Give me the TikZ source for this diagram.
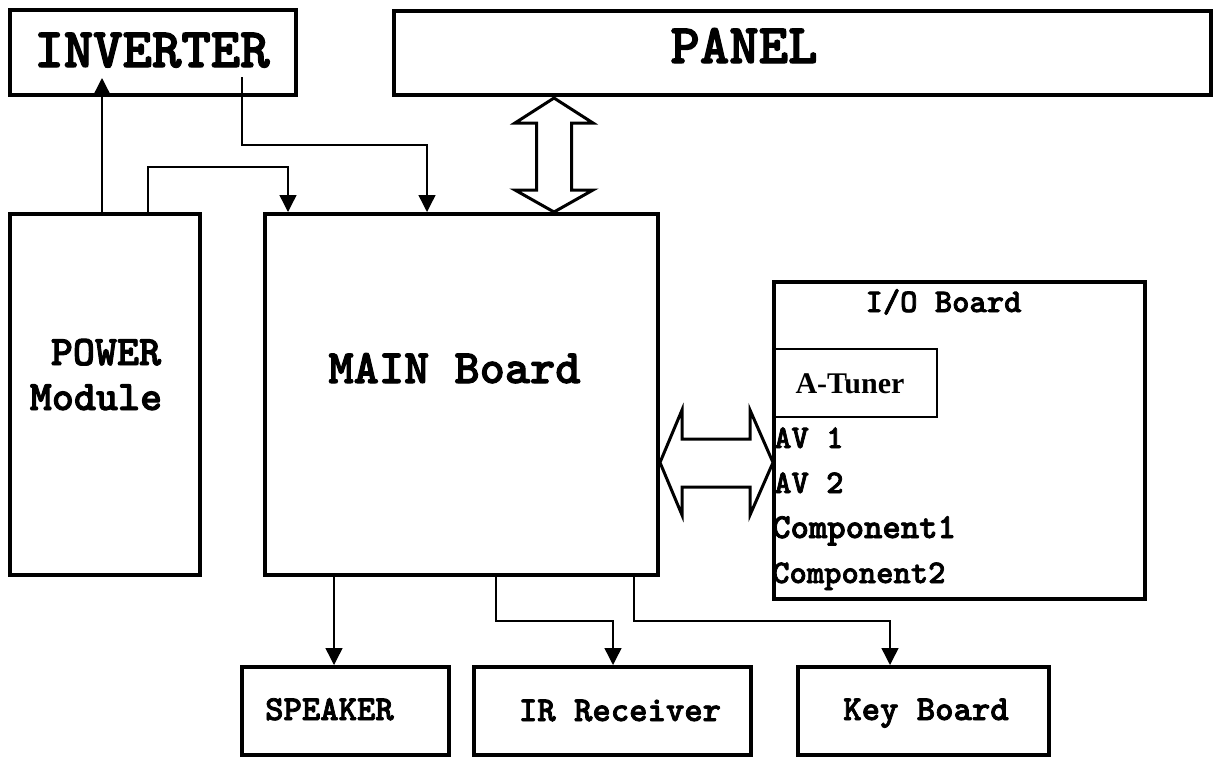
\documentclass[tikz,border=0pt]{standalone}
\usepackage{fontspec}
\newfontfamily\cour{lmmonolt10-bold.otf}[FakeBold=2.2]
\newfontfamily\tms{Liberation Serif}
\usetikzlibrary{arrows.meta}
\newcommand\fsz[1]{\fontsize{#1}{#1}\selectfont}
\begin{document}
\begin{tikzpicture}[x=1pt,y=-1pt,
  box/.style={draw, line width=4pt, inner sep=0pt, fill=white},
  thinbox/.style={draw, line width=1.2pt, inner sep=0pt},
  lbl/.style={inner sep=0pt, anchor=base},
  lblw/.style={inner sep=0pt, anchor=base west},
  conn/.style={line width=1.4pt, line join=miter, -{Triangle[length=17pt,width=17pt]}},
  blockarrow/.style={draw, line width=3pt, fill=white, line join=miter}]
\fill[white] (0,0) rectangle (1220,758);
\useasboundingbox (0,0) rectangle (1220,758);

% boxes
\node[box, minimum width=286pt, minimum height=85pt] (inverter) at (153,52.5) {};
\node[box, minimum width=817pt, minimum height=84pt] (panel) at (802.5,53) {};
\node[box, minimum width=190pt, minimum height=361pt] (power) at (105,394.5) {};
\node[box, minimum width=393pt, minimum height=361pt] (main) at (461.5,394.5) {};
\node[box, minimum width=371pt, minimum height=317pt] (io) at (959.5,440.5) {};
\node[thinbox, minimum width=162pt, minimum height=68pt] (tuner) at (856,383) {};
\node[box, minimum width=207pt, minimum height=88pt] (speaker) at (345.5,711) {};
\node[box, minimum width=277pt, minimum height=88pt] (ir) at (612.5,711) {};
\node[box, minimum width=251pt, minimum height=88pt] (key) at (923.5,711) {};

% labels
\node[lbl, font=\cour\fsz{56}] (inverter-t) at (152,67) {INVERTER};
\node[lbl, font=\cour\fsz{56}] (panel-t) at (744,63) {PANEL};
\node[lbl, font=\cour\fsz{42}] (power-t1) at (106,365) {POWER};
\node[lbl, font=\cour\fsz{42}] (power-t2) at (96,410) {Module};
\node[lbl, font=\cour\fsz{48}] (main-t) at (454.5,383) {MAIN Board};
\node[lbl, font=\cour\fsz{33}] (io-t) at (943.5,312) {I/O Board};
\node[lbl, font=\tms\bfseries\fsz{30}] (tuner-t) at (850,393) {A-Tuner};
\node[lblw, font=\cour\fsz{33}] (av1) at (774,448) {AV 1};
\node[lblw, font=\cour\fsz{33}] (av2) at (774,493) {AV 2};
\node[lblw, font=\cour\fsz{35}] (comp1) at (772,538) {Component1};
\node[lblw, font=\cour\fsz{33}] (comp2) at (772,583) {Component2};
\node[lbl, font=\cour\fsz{35}] (speaker-t) at (329.5,720) {SPEAKER};
\node[lbl, font=\cour\fsz{35}] (ir-t) at (620,721) {IR Receiver};
\node[lbl, font=\cour\fsz{35}] (key-t) at (926,720) {Key Board};

% block arrows
\draw[blockarrow] (554,98) -- (593,123) -- (571.5,123) -- (571.5,190) -- (593,190) -- (554,212)
  -- (515,190) -- (536.5,190) -- (536.5,123) -- (515,123) -- cycle;
\draw[blockarrow] (660,462.5) -- (682,410) -- (682,439) -- (750,439) -- (750,410) -- (773,462.5)
  -- (750,515) -- (750,487) -- (682,487) -- (682,515) -- cycle;

% connectors
\coordinate (c-inv-in) at (102,78);
\draw[conn] (c-inv-in |- power.north) -- (c-inv-in);
\coordinate (c-inv-out) at (242,77);
\coordinate (c-inv-bend) at (427,145);
\draw[conn] (c-inv-out) |- (c-inv-bend) -- (c-inv-bend |- main.north);
\coordinate (c-pw-bend1) at (148,167);
\coordinate (c-pw-bend2) at (288,167);
\draw[conn] (c-pw-bend1 |- power.north) -- (c-pw-bend1) -- (c-pw-bend2) -- (c-pw-bend2 |- main.north);
\coordinate (c-sp) at (334,620);
\draw[conn] (c-sp |- main.south) -- (c-sp |- speaker.north);
\coordinate (c-ir1) at (496,621);
\coordinate (c-ir2) at (613,621);
\draw[conn] (c-ir1 |- main.south) -- (c-ir1) -- (c-ir2) -- (c-ir2 |- ir.north);
\coordinate (c-kb1) at (634,621);
\coordinate (c-kb2) at (890,621);
\draw[conn] (c-kb1 |- main.south) -- (c-kb1) -- (c-kb2) -- (c-kb2 |- key.north);
\end{tikzpicture}
\end{document}
